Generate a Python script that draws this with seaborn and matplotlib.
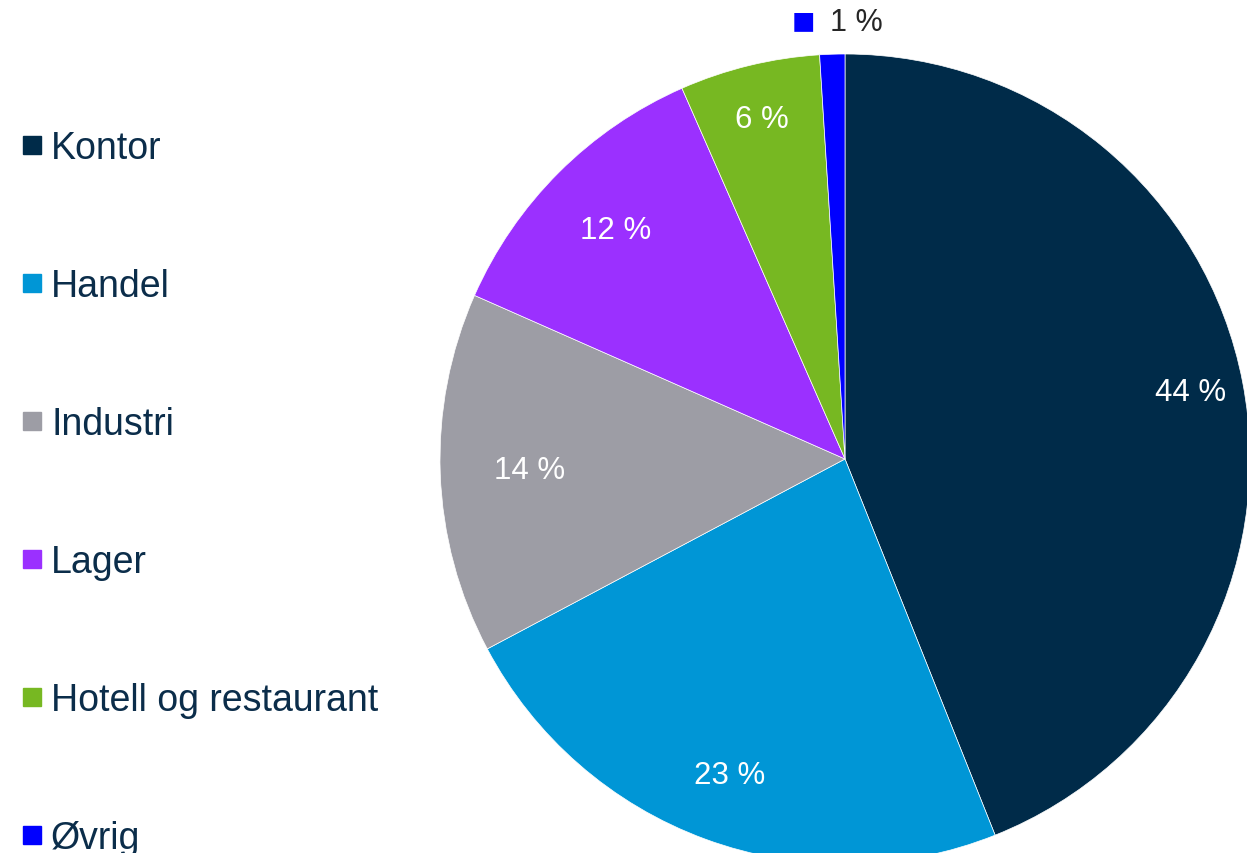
import numpy as np
import matplotlib
matplotlib.use("Agg")
import matplotlib.pyplot as plt
from matplotlib.lines import Line2D
import seaborn as sns

sns.set_theme(style="white")
plt.rcParams['font.family'] = ['Liberation Sans', 'DejaVu Sans']

categories = ["Kontor", "Handel", "Industri", "Lager", "Hotell og restaurant", "Øvrig"]
values = [44.0, 23.3, 14.4, 11.8, 5.6, 1.0]
pct_labels = ["44 %", "23 %", "14 %", "12 %", "6 %", "1 %"]
colors = ["#002B49", "#0096D6", "#9D9DA5", "#9B30FF", "#77B822", "#0000FF"]
label_dist = [0.87, 0.83, 0.78, 0.80, 0.865, 1.08]

fig = plt.figure(figsize=(12.47, 8.54), dpi=100)
ax = fig.add_axes([440/1247, (854-865)/854, 810/1247, 810/854])

wedges, _ = ax.pie(values, colors=colors, startangle=90, counterclock=False,
                   wedgeprops=dict(linewidth=0.5, edgecolor="white"))
ax.set_xlim(-1, 1)
ax.set_ylim(-1, 1)
ax.set_aspect('equal')
ax.axis('off')

for i, (w, lab) in enumerate(zip(wedges, pct_labels)):
    ang = np.deg2rad((w.theta1 + w.theta2) / 2)
    d = label_dist[i]
    x, y = d * np.cos(ang), d * np.sin(ang)
    if i == len(values) - 1:
        ax.annotate(lab, (x, y), xytext=(18, 0), textcoords='offset points',
                    ha='center', va='center', fontsize=22, color='#262626',
                    annotation_clip=False)
        ax.annotate("■", (x, y), xytext=(-20, 0), textcoords='offset points',
                    ha='center', va='center', fontsize=28, color=colors[i],
                    annotation_clip=False)
    else:
        ax.text(x, y, lab, ha='center', va='center', fontsize=22.5, color='white')

handles = [Line2D([], [], marker='s', linestyle='', markersize=13.5, color=c) for c in colors]
leg = fig.legend(handles, categories, loc='center left', bbox_to_anchor=(0.017, 0.4215),
                 frameon=False, fontsize=27, labelspacing=2.72, handlelength=0.55,
                 handletextpad=0.25, borderaxespad=0, borderpad=0)
for t in leg.get_texts():
    t.set_color("#0B2D4A")

fig.savefig("out.png", dpi=100)
